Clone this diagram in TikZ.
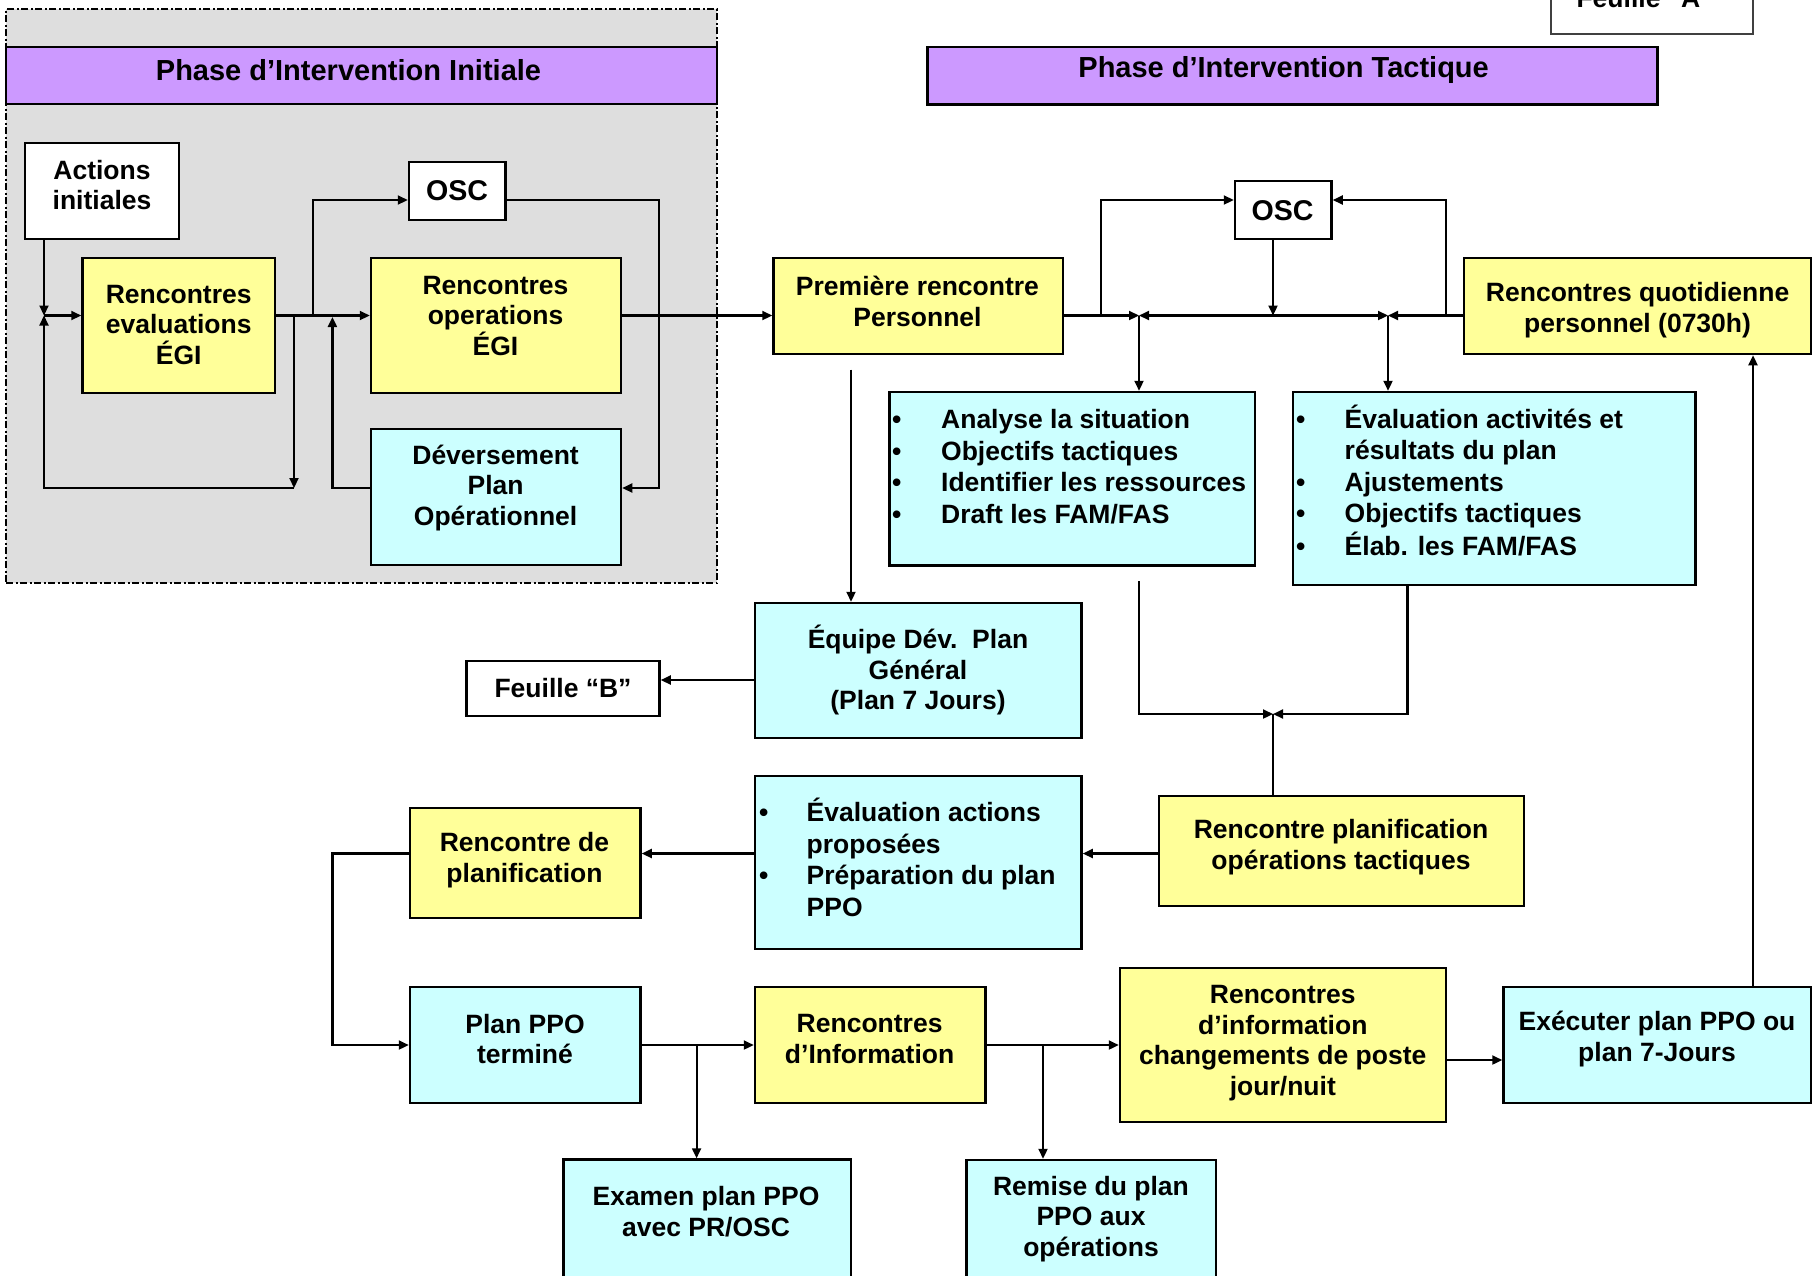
\documentclass[tikz,border=0pt]{standalone}
\usepackage{fontspec}
\setmainfont{Liberation Sans}
\usetikzlibrary{arrows.meta}
\definecolor{hpurple}{HTML}{CC99FF}
\definecolor{byellow}{HTML}{FFFF99}
\definecolor{bcyan}{HTML}{CCFFFF}
\definecolor{pgray}{HTML}{DEDEDE}
\tikzset{
  bx/.style n args={2}{draw=black, line width=2.5pt, rectangle, inner sep=0pt,
    minimum width=#1, minimum height=#2},
  ybx/.style={fill=byellow},
  cbx/.style={fill=bcyan},
  wbx/.style={fill=white},
  txt/.style={font=\fontsize{26.5}{30.7}\selectfont\bfseries, align=center, inner sep=0pt},
  otxt/.style={font=\fontsize{28.6}{33}\selectfont\bfseries, inner sep=0pt},
  btxt/.style={font=\fontsize{26.5}{31.5}\selectfont\bfseries, inner sep=0pt, anchor=west},
  htxt/.style={font=\fontsize{29}{34}\selectfont\bfseries, inner sep=0pt},
  con/.style={line width=2.2pt},
  arr/.style={con, -{Triangle[length=10pt,width=9pt]}},
}
\begin{document}
\begin{tikzpicture}[x=1pt,y=-1pt]
\useasboundingbox (0,0) rectangle (1813,1275);
\clip (0,0) rectangle (1813,1275);
\fill[white] (0,0) rectangle (1813,1275);

% gray area of the initial phase
\node[draw=black, line width=1.5pt, dash pattern=on 7pt off 2.5pt on 2pt off 2.5pt,
  fill=pgray, inner sep=0pt, minimum width=711pt, minimum height=574pt] (area) at (361.5,296) {};

% headers
\node[bx={711pt}{57pt}, fill=hpurple] (hdrI) at (361.5,75.5) {};
\node[htxt] (hdrIt) at (348.5,70) {Phase d’Intervention Initiale};
\node[bx={730pt}{57.5pt}, fill=hpurple] (hdrT) at (1292.5,75.7) {};
\node[htxt] (hdrTt) at (1283.6,70) {Phase d’Intervention Tactique};

% sheet label
\node[draw=black!75, line width=1.6pt, fill=white, inner sep=0pt,
  minimum width=202pt, minimum height=70pt] (feuA) at (1652,-1) {};
\node[txt] (feuAt) at (1645,-2) {Feuille “A”};

% initial phase boxes
\node[bx={154pt}{96pt}, wbx] (actions) at (102,191) {};
\node[txt] (actionst) at (102,185) {Actions\\initiales};
\node[bx={192.5pt}{135pt}, ybx] (eval) at (178.75,325.5) {};
\node[txt] (evalt) at (178.7,325) {Rencontres\\evaluations\\ÉGI};
\node[bx={96.5pt}{58pt}, wbx] (osc1) at (457.25,191) {};
\node[otxt] (osc1t) at (457,191) {OSC};
\node[bx={250pt}{135pt}, ybx] (ops) at (496,325.5) {};
\node[txt] (opst) at (495.5,316) {Rencontres\\operations\\ÉGI};
\node[bx={250pt}{136pt}, cbx] (dev) at (496,497) {};
\node[txt] (devt) at (495.6,488) {Déversement\\Plan\\Opérationnel};

% tactical phase boxes
\node[bx={289.5pt}{96pt}, ybx] (prem) at (918.25,306) {};
\node[txt] (premt) at (917.5,301.5) {Première rencontre\\Personnel};
\node[bx={96.5pt}{58pt}, wbx] (osc2) at (1283.25,210) {};
\node[otxt] (osc2t) at (1282.5,210.5) {OSC};
\node[bx={347pt}{96pt}, ybx] (quot) at (1637.5,306) {};
\node[txt] (quott) at (1637.6,310) {Rencontres quotidienne\\personnel (0730h)};

\node[bx={365.5pt}{173.5pt}, cbx] (b1) at (1072.25,478.75) {};
\node[btxt] (b1t) at (892,469.5) {\begin{tabular}{@{}p{49pt}@{}l@{}}
•&Analyse la situation\\
•&Objectifs tactiques\\
•&Identifier les ressources\\
•&Draft les FAM/FAS\end{tabular}};
\node[bx={402.5pt}{193pt}, cbx] (b2) at (1494.25,488.5) {};
\node[btxt] (b2t) at (1296,485) {\begin{tabular}{@{}p{48.5pt}@{}l@{}}
•&Évaluation activités et\\
&résultats du plan\\
•&Ajustements\\
•&Objectifs tactiques\\
•&Élab. les FAM/FAS\end{tabular}};

\node[bx={326.5pt}{135pt}, cbx] (equipe) at (918.25,670.5) {};
\node[txt] (equipet) at (918,670) {Équipe Dév.\ \ Plan\\Général\\(Plan 7 Jours)};
\node[bx={193pt}{55pt}, wbx] (feuB) at (563,688.5) {};
\node[txt] (feuBt) at (563,688.5) {Feuille “B”};

\node[bx={326.5pt}{173pt}, cbx] (evalact) at (918.25,862.5) {};
\node[btxt] (evalactt) at (759,862) {\begin{tabular}{@{}p{47.5pt}@{}l@{}}
•&Évaluation actions\\
&proposées\\
•&Préparation du plan\\
&PPO\end{tabular}};
\node[bx={365pt}{110pt}, ybx] (rpot) at (1341.5,851) {};
\node[txt] (rpott) at (1341,847.3) {Rencontre planification\\opérations tactiques};
\node[bx={230.5pt}{110pt}, ybx] (rplan) at (525.25,863) {};
\node[txt] (rplant) at (524.5,860) {Rencontre de\\planification};

\node[bx={230.5pt}{116pt}, cbx] (ppo) at (525.25,1045) {};
\node[txt] (ppot) at (525,1039) {Plan PPO\\terminé};
\node[bx={230.5pt}{116pt}, ybx] (rinfo) at (870.25,1045) {};
\node[txt] (rinfot) at (869.6,1039) {Rencontres\\d’Information};
\node[bx={326pt}{154pt}, ybx] (chg) at (1283,1045) {};
\node[txt] (chgt) at (1282.8,1043) {Rencontres\\d’information\\changements de poste\\jour/nuit};
\node[bx={307.5pt}{116pt}, cbx] (exec) at (1657.25,1045) {};
\node[txt] (exect) at (1657,1039) {Exécuter plan PPO ou\\plan 7-Jours};
\node[bx={287.5pt}{130.5pt}, cbx] (exam) at (707.25,1224.75) {};
\node[txt] (examt) at (706,1211.5) {Examen plan PPO\\avec PR/OSC};
\node[bx={249.5pt}{130pt}, cbx] (remise) at (1091.25,1225) {};
\node[txt] (remiset) at (1091,1219) {Remise du plan\\PPO aux\\opérations};

% junction coordinates
\coordinate (jL) at (44,315.5);
\coordinate (jLb) at (44,488);
\coordinate (k1) at (294,315.5);
\coordinate (k1b) at (294,488);
\coordinate (k2) at (313,315.5);
\coordinate (jA) at (1139,315.5);
\coordinate (jB) at (1388,315.5);
\coordinate (jC) at (1273,315.5);
\coordinate (jD) at (1273,714);
\coordinate (s1) at (1139,581);
\coordinate (s2) at (851,369.7);

% connectors, initial phase
\draw[arr] (actions.south -| jL) -- (jL);
\draw[arr] (k1) -- (k1b);
\draw[arr] (k1b) -- (jLb) -- (jL);
\draw[arr] (jL) -- (jL -| eval.west);
\draw[arr] (jL -| eval.east) -- (jL -| ops.west);
\draw[arr] (k2) |- (osc1.west |- 0,200);
\draw[arr] (dev.west |- 0,488) -| (332.4,317);
\draw[arr] (osc1.east |- 0,200) -| (659,488) -- (dev.east |- 0,488);
\draw[arr] (jL -| ops.east) -- (jL -| prem.west);

% connectors, tactical phase
\draw[arr] (jL -| prem.east) -- (jA);
\draw[arr] (1101,315.5) |- (osc2.west |- 0,200);
\draw[arr] (osc2.south -| jC) -- (jC);
\draw[arr] (jC) -- (jA);
\draw[arr] (jC) -- (jB);
\draw[arr] (jB -| quot.west) -- (jB);
\draw[arr] (1445.6,315.5) |- (osc2.east |- 0,200);
\draw[arr] (jA) -- (jA |- b1.north);
\draw[arr] (jB) -- (jB |- b2.north);
\draw[arr] (s1) |- (jD);
\draw[arr] (b2.south -| 1407.5,0) |- (jD);
\draw[con] (rpot.north -| jD) -- (jD);
\draw[arr] (s2) -- (s2 |- equipe.north);
\draw[arr] (equipe.west |- 0,680) -- (feuB.east |- 0,680);
\draw[arr] (rpot.west |- 0,853.5) -- (evalact.east |- 0,853.5);
\draw[arr] (evalact.west |- 0,853.5) -- (rplan.east |- 0,853.5);
\draw[arr] (rplan.west |- 0,853.5) -| (332.5,1045) -- (ppo.west);
\draw[arr] (ppo.east) -- (rinfo.west);
\draw[arr] (696.6,1045) -- (exam.north -| 696.6,0);
\draw[arr] (rinfo.east) -- (chg.west);
\draw[arr] (1043,1045) -- (remise.north -| 1043,0);
\draw[arr] (chg.east |- 0,1060) -- (exec.west |- 0,1060);
\draw[arr] (exec.north -| 1753,0) -- (quot.south -| 1753,0);
\end{tikzpicture}
\end{document}
